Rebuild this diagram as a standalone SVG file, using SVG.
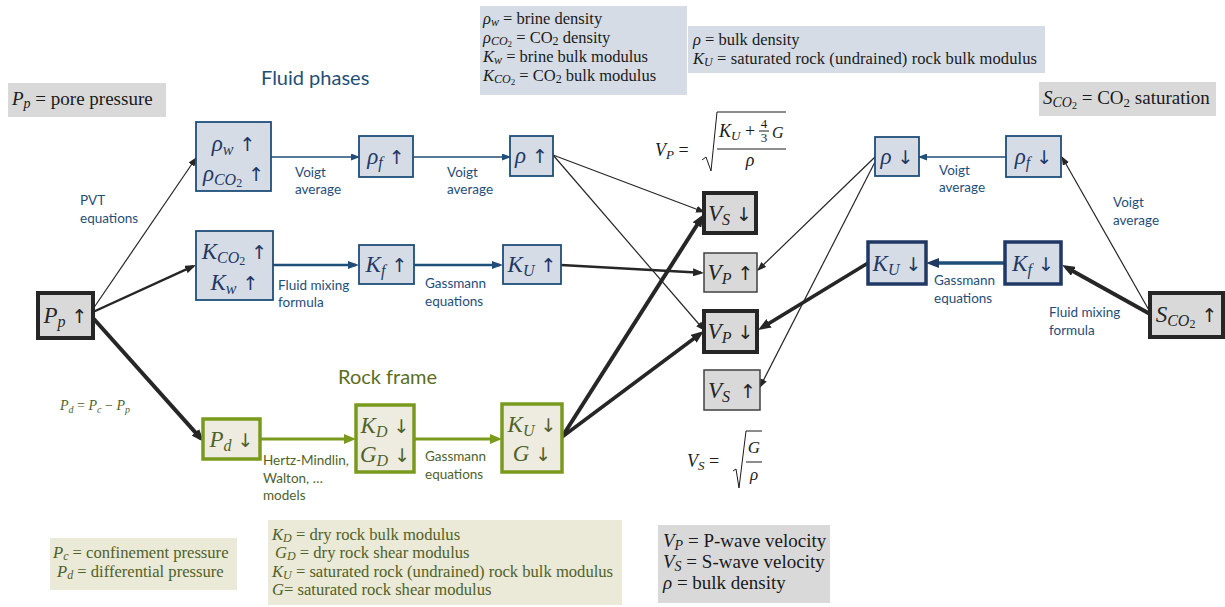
<svg xmlns="http://www.w3.org/2000/svg" width="1225" height="607" viewBox="0 0 1225 607">
<defs>
<style>
.m{font-family:"Liberation Serif","DejaVu Serif",serif;font-style:italic}
.n{font-style:normal}
.ar{font-family:"DejaVu Sans",sans-serif;font-style:normal;font-size:19px}
.nd{font-size:23px}
.nb{fill:#1f3864}
.nk{fill:#262626}
.ng{fill:#4f6228}
.lb{font-family:Lato,"Liberation Sans",sans-serif;font-size:13.5px;fill:#1f4e79}
.lg{font-family:Lato,"Liberation Sans",sans-serif;font-size:13.5px;fill:#4f6228}
.tt{font-family:Lato,"Liberation Sans",sans-serif;font-size:20px}
.lt{font-family:"Liberation Serif","DejaVu Serif",serif;font-size:16.5px;fill:#1a1a1a}
.ltg{font-family:"Liberation Serif","DejaVu Serif",serif;font-size:16.6px;fill:#4f6228}
.lt2{font-family:"Liberation Serif","DejaVu Serif",serif;font-size:19px;fill:#1a1a1a}
.i{font-style:italic}
.bx-b{fill:#d6dce5;stroke:#1f4e79;stroke-width:1.8}
.bx-bt{fill:#d6dce5;stroke:#1f3864;stroke-width:3.5}
.bx-k{fill:#d9d9d9;stroke:#262626;stroke-width:4}
.bx-kt{fill:#d9d9d9;stroke:#404040;stroke-width:1.5}
.bx-g{fill:#eeece1;stroke:#7a9a1e;stroke-width:3.5}
.ck{fill:none;stroke:#262626}
.cb{fill:none;stroke:#1f4e79}
.cg{fill:none;stroke:#7a9a1e;stroke-width:3}
.fx{fill:none;stroke:#1a1a1a;stroke-width:1}
</style>
<marker id="aks" markerUnits="userSpaceOnUse" markerWidth="9" markerHeight="7" viewBox="0 0 9 7" refX="8" refY="3.5" orient="auto"><path d="M0,0 L9,3.5 L0,7 z" fill="#262626"/></marker>
<marker id="akm" markerUnits="userSpaceOnUse" markerWidth="11" markerHeight="8" viewBox="0 0 11 8" refX="8" refY="4" orient="auto"><path d="M0,0 L11,4 L0,8 z" fill="#262626"/></marker>
<marker id="akl" markerUnits="userSpaceOnUse" markerWidth="13" markerHeight="10" viewBox="0 0 13 10" refX="8" refY="5" orient="auto"><path d="M0,0 L13,5 L0,10 z" fill="#262626"/></marker>
<marker id="abs" markerUnits="userSpaceOnUse" markerWidth="9" markerHeight="7" viewBox="0 0 9 7" refX="8" refY="3.5" orient="auto"><path d="M0,0 L9,3.5 L0,7 z" fill="#1f4e79"/></marker>
<marker id="abm" markerUnits="userSpaceOnUse" markerWidth="11" markerHeight="8" viewBox="0 0 11 8" refX="8" refY="4" orient="auto"><path d="M0,0 L11,4 L0,8 z" fill="#1f4e79"/></marker>
<marker id="abl" markerUnits="userSpaceOnUse" markerWidth="13" markerHeight="10" viewBox="0 0 13 10" refX="8" refY="5" orient="auto"><path d="M0,0 L13,5 L0,10 z" fill="#1f3864"/></marker>
<marker id="ag" markerUnits="userSpaceOnUse" markerWidth="12" markerHeight="10" viewBox="0 0 12 10" refX="7" refY="5" orient="auto"><path d="M0,0 L12,5 L0,10 z" fill="#7a9a1e"/></marker>
</defs>
<rect width="1225" height="607" fill="#ffffff"/>

<!-- legends -->
<g id="legend-pp">
<rect x="8" y="83" width="158" height="34" fill="#d9d9d9"/>
<text x="12" y="105" class="lt2"><tspan class="i">P</tspan><tspan class="i" font-size="14" dy="3">p</tspan><tspan dy="-3"> = pore pressure</tspan></text>
</g>
<g id="legend-fluid">
<rect x="480" y="6" width="207" height="89" fill="#d6dce5"/>
<text x="483" y="24" class="lt"><tspan class="i">ρ</tspan><tspan class="i" font-size="12" dy="2">w</tspan><tspan dy="-2"> = brine density</tspan></text>
<text x="483" y="43" class="lt"><tspan class="i">ρ</tspan><tspan class="i" font-size="12" dy="2">CO</tspan><tspan font-size="9" dy="2">2</tspan><tspan dy="-4"> = CO</tspan><tspan font-size="12" dy="2">2</tspan><tspan dy="-2"> density</tspan></text>
<text x="483" y="62" class="lt"><tspan class="i">K</tspan><tspan class="i" font-size="12" dy="2">w</tspan><tspan dy="-2"> = brine bulk modulus</tspan></text>
<text x="483" y="81" class="lt"><tspan class="i">K</tspan><tspan class="i" font-size="12" dy="2">CO</tspan><tspan font-size="9" dy="2">2</tspan><tspan dy="-4"> = CO</tspan><tspan font-size="12" dy="2">2</tspan><tspan dy="-2"> bulk modulus</tspan></text>
</g>
<g id="legend-bulk">
<rect x="688" y="26" width="357" height="47" fill="#d6dce5"/>
<text x="693" y="45" class="lt"><tspan class="i">ρ</tspan> = bulk density</text>
<text x="693" y="64" class="lt" textLength="344" lengthAdjust="spacing"><tspan class="i">K</tspan><tspan class="i" font-size="12" dy="2">U</tspan><tspan dy="-2"> = saturated rock (undrained) rock bulk modulus</tspan></text>
</g>
<g id="legend-sco2">
<rect x="1039" y="82" width="177" height="34" fill="#d9d9d9"/>
<text x="1043" y="104" class="lt2"><tspan class="i">S</tspan><tspan class="i" font-size="14" dy="3">CO</tspan><tspan font-size="10" dy="2">2</tspan><tspan dy="-5"> = CO</tspan><tspan font-size="13" dy="3">2</tspan><tspan dy="-3"> saturation</tspan></text>
</g>
<g id="legend-pressure">
<rect x="50" y="538" width="187" height="52" fill="#ebe9d8"/>
<text x="53" y="558" class="ltg"><tspan class="i">P</tspan><tspan class="i" font-size="12" dy="2">c</tspan><tspan dy="-2"> = confinement pressure</tspan></text>
<text x="57" y="577" class="ltg"><tspan class="i">P</tspan><tspan class="i" font-size="12" dy="2">d</tspan><tspan dy="-2"> = differential pressure</tspan></text>
</g>
<g id="legend-rock">
<rect x="268" y="520" width="354" height="85" fill="#ebe9d8"/>
<text x="272" y="540" class="ltg"><tspan class="i">K</tspan><tspan class="i" font-size="12" dy="2">D</tspan><tspan dy="-2"> = dry rock bulk modulus</tspan></text>
<text x="275" y="558" class="ltg"><tspan class="i">G</tspan><tspan class="i" font-size="12" dy="2">D</tspan><tspan dy="-2"> = dry rock shear modulus</tspan></text>
<text x="272" y="577" class="ltg"><tspan class="i">K</tspan><tspan class="i" font-size="12" dy="2">U</tspan><tspan dy="-2"> = saturated rock (undrained) rock bulk modulus</tspan></text>
<text x="272" y="595" class="ltg"><tspan class="i">G</tspan>= saturated rock shear modulus</text>
</g>
<g id="legend-velocity">
<rect x="658" y="525" width="172" height="78" fill="#d9d9d9"/>
<text x="663" y="547" class="lt2"><tspan class="i">V</tspan><tspan class="i" font-size="14" dy="3">P</tspan><tspan dy="-3"> = P-wave velocity</tspan></text>
<text x="663" y="568" class="lt2"><tspan class="i">V</tspan><tspan class="i" font-size="14" dy="3">S</tspan><tspan dy="-3"> = S-wave velocity</tspan></text>
<text x="663" y="589" class="lt2"><tspan class="i">ρ</tspan> = bulk density</text>
</g>

<!-- titles -->
<text x="261" y="85" class="tt" fill="#1f4e79">Fluid phases</text>
<text x="338" y="384" class="tt" fill="#5a6e1e">Rock frame</text>

<!-- formulas -->
<g id="formula-vp">
<text x="655" y="156" class="m" font-size="18" fill="#1a1a1a">V<tspan font-size="13" dy="3">P</tspan><tspan class="n" dy="-3"> =</tspan></text>
<path d="M702,160 L706,157 L711,171 L717,112 L786,112" class="fx"/>
<text x="719" y="137" class="m" font-size="18" fill="#1a1a1a">K<tspan font-size="13" dy="3">U</tspan><tspan class="n" dy="-3"> +</tspan></text>
<text x="764" y="128" font-family="Liberation Serif,serif" font-size="13" fill="#1a1a1a" text-anchor="middle">4</text>
<line x1="759" y1="131" x2="769" y2="131" class="fx"/>
<text x="764" y="142" font-family="Liberation Serif,serif" font-size="13" fill="#1a1a1a" text-anchor="middle">3</text>
<text x="772" y="138" class="m" font-size="16" fill="#1a1a1a">G</text>
<line x1="717" y1="149" x2="786" y2="149" class="fx"/>
<text x="750" y="166" class="m" font-size="18" fill="#1a1a1a" text-anchor="middle">ρ</text>
</g>
<g id="formula-vs">
<text x="687" y="467" class="m" font-size="18" fill="#1a1a1a">V<tspan font-size="13" dy="3">S</tspan><tspan class="n" dy="-3"> =</tspan></text>
<path d="M733,471 L736,469 L739,488 L746,431 L762,431" class="fx"/>
<text x="754" y="453" class="m" font-size="17" fill="#1a1a1a" text-anchor="middle">G</text>
<line x1="746" y1="462" x2="762" y2="462" class="fx"/>
<text x="754" y="480" class="m" font-size="17" fill="#1a1a1a" text-anchor="middle">ρ</text>
</g>

<!-- connectors -->
<g id="connectors">
<path d="M93,309 L196,158" class="ck" stroke-width="1.2" marker-end="url(#aks)"/>
<path d="M553,155 L704,212" class="ck" stroke-width="1.2" marker-end="url(#aks)"/>
<path d="M553,155 L704,330" class="ck" stroke-width="1.2" marker-end="url(#aks)"/>
<path d="M875,157 L758,270" class="ck" stroke-width="1.2" marker-end="url(#aks)"/>
<path d="M876,160 L760,387" class="ck" stroke-width="1.2" marker-end="url(#aks)"/>
<path d="M1150,312 L1062,157" class="ck" stroke-width="1.2" marker-end="url(#aks)"/>
<path d="M93,312 L193.3,266.2" class="ck" stroke-width="2.4" marker-end="url(#akm)"/>
<path d="M561,265 L701,272.8" class="ck" stroke-width="2.4" marker-end="url(#akm)"/>
<path d="M93,318 L200.7,438.3" class="ck" stroke-width="4" marker-end="url(#akl)"/>
<path d="M562,437 L701.3,218.2" class="ck" stroke-width="4" marker-end="url(#akl)"/>
<path d="M562,437 L700,334" class="ck" stroke-width="3.5" marker-end="url(#akl)"/>
<path d="M868,263 L762.3,327.4" class="ck" stroke-width="3.5" marker-end="url(#akl)"/>
<path d="M1150,314 L1066.4,267.4" class="ck" stroke-width="4" marker-end="url(#akl)"/>
<path d="M271,157 L359,157" class="cb" stroke-width="1.5" marker-end="url(#abs)"/>
<path d="M413,157 L510,157" class="cb" stroke-width="1.5" marker-end="url(#abs)"/>
<path d="M1006,157 L919,157" class="cb" stroke-width="1.5" marker-end="url(#abs)"/>
<path d="M273,265 L356,265" class="cb" stroke-width="2.4" marker-end="url(#abm)"/>
<path d="M414,265 L500,265" class="cb" stroke-width="2.4" marker-end="url(#abm)"/>
<path d="M1005,263 L931,263" class="cb" stroke="#1f3864" stroke-width="3.5" marker-end="url(#abl)"/>
<path d="M260,439 L351,439" class="cg" marker-end="url(#ag)"/>
<path d="M414,439 L497,439" class="cg" marker-end="url(#ag)"/>
</g>

<!-- connector labels -->
<g id="connector-labels">
<text x="80" y="205" class="lb">PVT</text>
<text x="80" y="223" class="lb">equations</text>
<text x="295" y="177" class="lb">Voigt</text>
<text x="295" y="194" class="lb">average</text>
<text x="447" y="177" class="lb">Voigt</text>
<text x="447" y="194" class="lb">average</text>
<text x="278" y="290" class="lb">Fluid mixing</text>
<text x="278" y="307" class="lb">formula</text>
<text x="425" y="288" class="lb">Gassmann</text>
<text x="425" y="306" class="lb">equations</text>
<text x="939" y="175" class="lb">Voigt</text>
<text x="939" y="192" class="lb">average</text>
<text x="1113" y="207" class="lb">Voigt</text>
<text x="1113" y="225" class="lb">average</text>
<text x="934" y="285" class="lb">Gassmann</text>
<text x="934" y="303" class="lb">equations</text>
<text x="1049" y="317" class="lb">Fluid mixing</text>
<text x="1049" y="335" class="lb">formula</text>
<text x="60" y="410" class="m ng" font-size="14">P<tspan font-size="10" dy="3">d</tspan><tspan class="n" dy="-3"> = </tspan>P<tspan font-size="10" dy="3">c</tspan><tspan class="n" dy="-3"> − </tspan>P<tspan font-size="10" dy="3">p</tspan></text>
<text x="263" y="465" class="lg">Hertz-Mindlin,</text>
<text x="263" y="483" class="lg">Walton, …</text>
<text x="263" y="500" class="lg">models</text>
<text x="425" y="461" class="lg">Gassmann</text>
<text x="425" y="479" class="lg">equations</text>
</g>

<!-- nodes -->
<g id="node-pp">
<rect x="38" y="293" width="55" height="45" class="bx-k"/>
<text x="65.5" y="323" class="m nd nk" text-anchor="middle">P<tspan font-size="16" dy="4">p</tspan><tspan class="ar" dy="-4"> ↑</tspan></text>
</g>
<g id="node-rho-phases">
<rect x="196" y="122" width="75" height="69" class="bx-b"/>
<text x="233.5" y="151" class="m nd nb" text-anchor="middle">ρ<tspan font-size="16" dy="4">w</tspan><tspan class="ar" dy="-4"> ↑</tspan></text>
<text x="233.5" y="181" class="m nd nb" text-anchor="middle">ρ<tspan font-size="16" dy="4">CO</tspan><tspan class="n" font-size="12" dy="2">2</tspan><tspan class="ar" dy="-6"> ↑</tspan></text>
</g>
<g id="node-k-phases">
<rect x="196" y="231" width="77" height="69" class="bx-b"/>
<text x="234.5" y="259" class="m nd nb" text-anchor="middle">K<tspan font-size="16" dy="4">CO</tspan><tspan class="n" font-size="12" dy="2">2</tspan><tspan class="ar" dy="-6"> ↑</tspan></text>
<text x="234.5" y="290" class="m nd nb" text-anchor="middle">K<tspan font-size="16" dy="4">w</tspan><tspan class="ar" dy="-4"> ↑</tspan></text>
</g>
<g id="node-rhof-up">
<rect x="359" y="136" width="54" height="41" class="bx-b"/>
<text x="386" y="164" class="m nd nb" text-anchor="middle">ρ<tspan font-size="16" dy="4">f</tspan><tspan class="ar" dy="-4"> ↑</tspan></text>
</g>
<g id="node-kf-up">
<rect x="359" y="245" width="55" height="39" class="bx-b"/>
<text x="386.5" y="272" class="m nd nb" text-anchor="middle">K<tspan font-size="16" dy="4">f</tspan><tspan class="ar" dy="-4"> ↑</tspan></text>
</g>
<g id="node-rho-up">
<rect x="510" y="136" width="43" height="40" class="bx-b"/>
<text x="531.5" y="163" class="m nd nb" text-anchor="middle">ρ<tspan class="ar"> ↑</tspan></text>
</g>
<g id="node-ku-up">
<rect x="503" y="245" width="58" height="39" class="bx-b"/>
<text x="532" y="272" class="m nd nb" text-anchor="middle">K<tspan font-size="16" dy="4">U</tspan><tspan class="ar" dy="-4"> ↑</tspan></text>
</g>
<g id="node-vs-down">
<rect x="704" y="193" width="52" height="40" class="bx-k" stroke-width="3.5"/>
<text x="730" y="221" class="m nd nk" text-anchor="middle">V<tspan font-size="16" dy="4">S</tspan><tspan class="ar" dy="-4"> ↓</tspan></text>
</g>
<g id="node-vp-up">
<rect x="704" y="253" width="53" height="39" class="bx-kt"/>
<text x="730.5" y="280" class="m nd nk" text-anchor="middle">V<tspan font-size="16" dy="4">P</tspan><tspan class="ar" dy="-4"> ↑</tspan></text>
</g>
<g id="node-vp-down">
<rect x="704" y="311" width="53" height="41" class="bx-k" stroke-width="3.5"/>
<text x="730.5" y="339" class="m nd nk" text-anchor="middle">V<tspan font-size="16" dy="4">P</tspan><tspan class="ar" dy="-4"> ↓</tspan></text>
</g>
<g id="node-vs-up">
<rect x="704" y="370" width="56" height="40" class="bx-kt"/>
<text x="732" y="398" class="m nd nk" text-anchor="middle">V<tspan font-size="16" dy="4">S</tspan><tspan class="ar" dy="-4" dx="4"> ↑</tspan></text>
</g>
<g id="node-rho-down">
<rect x="875" y="137" width="44" height="39" class="bx-b"/>
<text x="897" y="164" class="m nd nb" text-anchor="middle">ρ<tspan class="ar"> ↓</tspan></text>
</g>
<g id="node-rhof-down">
<rect x="1006" y="136" width="55" height="41" class="bx-b"/>
<text x="1033.5" y="164" class="m nd nb" text-anchor="middle">ρ<tspan font-size="16" dy="4">f</tspan><tspan class="ar" dy="-4"> ↓</tspan></text>
</g>
<g id="node-ku-down">
<rect x="868" y="242" width="58" height="42" class="bx-bt"/>
<text x="897" y="271" class="m nd nb" text-anchor="middle">K<tspan font-size="16" dy="4">U</tspan><tspan class="ar" dy="-4"> ↓</tspan></text>
</g>
<g id="node-kf-down">
<rect x="1005" y="242" width="56" height="42" class="bx-bt"/>
<text x="1033" y="271" class="m nd nb" text-anchor="middle">K<tspan font-size="16" dy="4">f</tspan><tspan class="ar" dy="-4"> ↓</tspan></text>
</g>
<g id="node-sco2">
<rect x="1150" y="293" width="73" height="44" class="bx-k"/>
<text x="1186.5" y="322" class="m nd nk" text-anchor="middle">S<tspan font-size="16" dy="4">CO</tspan><tspan class="n" font-size="12" dy="2">2</tspan><tspan class="ar" dy="-6"> ↑</tspan></text>
</g>
<g id="node-pd">
<rect x="203" y="419" width="57" height="40" class="bx-g"/>
<text x="231.5" y="447" class="m nd ng" text-anchor="middle">P<tspan font-size="16" dy="4">d</tspan><tspan class="ar" dy="-4"> ↓</tspan></text>
</g>
<g id="node-kd-gd">
<rect x="356" y="405" width="58" height="67" class="bx-g"/>
<text x="385" y="433" class="m nd ng" text-anchor="middle">K<tspan font-size="16" dy="4">D</tspan><tspan class="ar" dy="-4"> ↓</tspan></text>
<text x="385" y="462" class="m nd ng" text-anchor="middle">G<tspan font-size="16" dy="4">D</tspan><tspan class="ar" dy="-4"> ↓</tspan></text>
</g>
<g id="node-ku-g">
<rect x="502" y="404" width="60" height="68" class="bx-g"/>
<text x="532" y="432" class="m nd ng" text-anchor="middle">K<tspan font-size="16" dy="4">U</tspan><tspan class="ar" dy="-4"> ↓</tspan></text>
<text x="532" y="461" class="m nd ng" text-anchor="middle">G<tspan class="ar"> ↓</tspan></text>
</g>
</svg>
